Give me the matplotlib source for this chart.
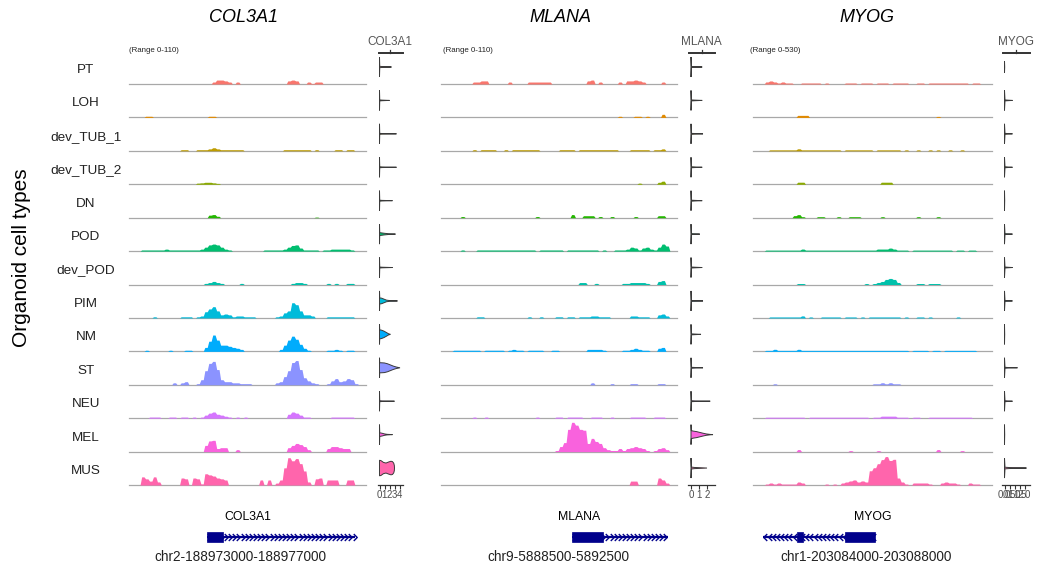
import numpy as np
import matplotlib
matplotlib.use("Agg")
import matplotlib.pyplot as plt
from matplotlib.patches import Rectangle
from matplotlib.lines import Line2D
from matplotlib.path import Path

plt.rcParams["font.family"] = ["Liberation Sans", "DejaVu Sans"]

# ---------------------------------------------------------------- data
CELL_TYPES = ["PT", "LOH", "dev_TUB_1", "dev_TUB_2", "DN", "POD", "dev_POD",
              "PIM", "NM", "ST", "NEU", "MEL", "MUS"]
CELL_COLORS = ["#F8766D", "#E18A00", "#BE9C00", "#8CAB00", "#24B700", "#00BE70",
               "#00C1AB", "#00BBDA", "#00ACFC", "#8B93FF", "#D575FE", "#F962DD",
               "#FF65AC"]

GENES = ["COL3A1", "MLANA", "MYOG"]
REGION_LABELS = ["chr2-188973000-188977000", "chr9-5888500-5892500",
                 "chr1-203084000-203088000"]
REGION_START = [188973000, 5888500, 203084000]
REGION_END = [188977000, 5892500, 203088000]
TRACK_MAX = [110, 110, 530]
N_BINS = 60

# coverage: (first bin, consecutive bin values) per cell type
COL3A1_COVERAGE = {
    "PT": [(21, [7, 14, 14, 11, 7]), (27, [7]), (40, [11, 14, 11]), (45, [7, 2, 7, 7])],
    "LOH": [(4, [4, 4]), (20, [4, 4])],
    "dev_TUB_1": [(13, [4, 4]), (17, [4, 4, 4, 7, 11, 7, 4, 4, 4, 4, 4, 4]),
                  (39, [4, 4, 4, 4, 4, 4, 4]), (47, [4]), (52, [4, 4]), (55, [4, 4])],
    "dev_TUB_2": [(17, [4, 5, 7, 7, 5, 3])],
    "DN": [(20, [9, 11, 5]), (47, [2])],
    "POD": [(3, [4, 4, 4, 4, 4, 4, 7, 4, 4, 4]),
            (13, [4, 4, 4, 4, 4, 7, 14, 22, 25, 22, 14, 7, 4]),
            (34, [4, 4, 4, 4, 4, 7, 14, 20, 22, 11, 4, 4, 4, 4]),
            (49, [4, 4, 7, 7, 7, 7, 7, 4])],
    "dev_POD": [(19, [4, 7, 11, 7, 4]), (28, [4]), (41, [4, 7, 7, 4]), (50, [4]),
                (52, [4]), (55, [4, 4])],
    "PIM": [(6, [4]), (13, [4, 4, 4]),
            (17, [4, 7, 22, 32, 40, 25, 11, 14, 11, 4, 7, 7, 4, 4, 4]),
            (37, [4, 7, 18, 25, 54, 47, 25, 11, 11, 7]), (50, [4, 4, 4, 4, 4, 4, 4])],
    "NM": [(4, [4]), (10, [4]), (14, [4, 4]),
           (19, [14, 36, 58, 40, 22, 22, 18, 14, 11, 7]),
           (38, [7, 22, 40, 54, 43, 25, 11, 4]), (50, [4, 4, 7, 4]), (55, [4, 4])],
    "ST": [(11, [7]), (13, [7, 11]),
           (17, [4, 18, 50, 76, 83, 54, 18, 11, 11, 7, 7, 4, 4, 4]),
           (37, [7, 11, 29, 50, 79, 86, 54, 25, 14, 7, 4]),
           (50, [4, 14, 22, 11, 14, 22, 18, 4])],
    "NEU": [(5, [4, 4, 4]), (10, [4, 4]), (13, [4, 4]), (16, [4]),
            (18, [4, 11, 18, 22, 14, 11, 7, 4]), (27, [4]), (29, [4]),
            (40, [14, 22, 18, 11, 4, 4]), (51, [4, 4, 4, 4, 4, 4])],
    "MEL": [(19, [22, 38, 40, 11, 14, 14]), (27, [7]), (40, [14, 22, 29, 25, 18, 7]),
            (50, [11, 18, 18, 14, 11, 11])],
    "MUS": [(3, [29, 22, 14, 29, 11]), (13, [25, 22]),
            (16, [25, 22, 4, 40, 36, 32, 25, 22, 18]), (33, [18]), (35, [18]),
            (37, [7, 18, 61, 97, 86, 94, 76, 50, 11]), (47, [22, 25]),
            (50, [18, 18, 18]), (55, [18, 18])],
}

MLANA_COVERAGE = {
    "PT": [(8, [7, 7, 11, 11]), (17, [7]), (22, [7, 7, 7, 7, 7, 7]), (37, [11, 14]),
           (40, [7]), (45, [7]), (47, [11, 11, 14, 11, 7]), (56, [7])],
    "LOH": [(45, [4]), (49, [4, 4]), (52, [4]), (56, [11])],
    "dev_TUB_1": [(8, [4]), (10, [4, 4, 4, 4]), (16, [4]), (18, [4] * 7),
                  (30, [4, 4, 4, 4]), (35, [4] * 10), (48, [4] * 5), (54, [4, 4, 7])],
    "dev_TUB_2": [(50, [4]), (55, [7, 11])],
    "DN": [(5, [4]), (24, [4]), (33, [11]), (36, [7, 7, 7]), (40, [4]), (43, [4]),
           (49, [4]), (55, [7, 7])],
    "POD": [(5, [4]), (9, [4] * 15), (25, [4] * 6), (32, [4] * 8), (41, [4]),
            (44, [4, 4, 4, 7, 14, 11, 4, 11, 14, 7, 4, 14, 25, 18])],
    "dev_POD": [(35, [7, 7]), (39, [4]), (46, [4, 4, 7, 7, 7, 7, 4]), (55, [11, 14])],
    "PIM": [(9, [4, 4]), (22, [4]), (25, [4]), (29, [4, 4]), (32, [4, 4]),
            (35, [4, 4, 4, 7, 7, 4, 4, 4]), (48, [7, 7, 4, 4, 4]), (55, [11, 14, 7])],
    "NM": [(3, [4] * 7), (11, [4] * 5), (17, [4, 7, 4, 4]), (22, [4, 4, 4, 4]),
           (28, [4, 4]), (37, [7, 7, 7, 7, 4]), (46, [4, 4, 7, 11, 7, 4, 4]),
           (55, [11, 14])],
    "ST": [(38, [7]), (43, [4]), (48, [4, 4]), (55, [4, 4])],
    "NEU": [(8, [4]), (11, [4]), (24, [4]), (29, [4, 4]), (32, [4, 4, 4, 4]),
            (38, [4, 4, 4]), (43, [4]), (48, [4, 4, 4, 4]), (54, [4, 4, 4])],
    "MEL": [(29, [4, 18, 32, 79, 104, 94, 79, 76, 29, 47, 36, 29, 14, 7, 4, 4, 11,
                  4, 11, 14, 18, 14, 11, 4]), (54, [4, 11, 14, 7])],
    "MUS": [(48, [14, 14]), (55, [25, 18, 7])],
}

MYOG_COVERAGE = {
    "PT": [(3, [35, 52, 35, 17, 35, 17, 17]), (12, [17] * 5), (18, [17]),
           (23, [17] * 3), (27, [17] * 3), (31, [17] * 3), (35, [17] * 4),
           (41, [17, 17]), (44, [17] * 10), (55, [17, 17])],
    "LOH": [(11, [35, 35, 35]), (46, [17])],
    "dev_TUB_1": [(4, [17, 17, 17, 17, 17, 17, 17, 35, 17, 17, 17, 17, 17, 17, 17,
                       17, 17, 17]),
                  (23, [17] * 7), (31, [17] * 6), (38, [17]), (41, [17]), (44, [17]),
                  (46, [17]), (49, [17]), (52, [17])],
    "dev_TUB_2": [(11, [35, 35]), (32, [35, 35, 35])],
    "DN": [(10, [35, 52, 17]), (16, [17, 17]), (21, [17]), (24, [17] * 3), (32, [17]),
           (41, [17]), (46, [17])],
    "POD": [(3, [17] * 9), (12, [35]), (13, [17] * 18), (31, [35, 35, 35, 52, 35]),
            (36, [17] * 3), (40, [17] * 10), (51, [17, 17]), (54, [17, 17])],
    "dev_POD": [(11, [17, 17]), (28, [17]), (30, [17, 35, 52, 87, 104, 87, 35]),
                (41, [17, 17]), (44, [17] * 3)],
    "PIM": [(4, [17] * 8), (12, [35]), (14, [17]), (17, [17] * 5), (23, [17] * 3),
            (27, [17]), (29, [17] * 8), (38, [17]), (41, [17, 17]), (44, [17]),
            (51, [17])],
    "NM": [(3, [17, 17, 35, 17, 17, 17, 17, 17, 35]), (12, [17] * 27), (40, [17] * 4),
           (45, [17, 17]), (48, [17] * 8)],
    "ST": [(5, [17]), (30, [17, 17, 35, 17, 35, 17, 17])],
    "NEU": [(3, [17] * 10), (14, [17] * 5), (19, [17] * 10),
            (30, [17, 17, 35, 35, 35, 35, 17, 17, 17]), (40, [17, 17]), (44, [17] * 11)],
    "MEL": [(11, [35]), (24, [17]), (31, [17]), (46, [35]), (52, [17])],
    "MUS": [(3, [17, 35, 17, 35, 17, 17, 17, 17, 52, 35]), (18, [17]), (20, [17]),
            (22, [35, 52, 70, 87, 52, 70, 52, 244, 296, 365, 435, 487, 420, 440, 120,
                  52, 17]),
            (40, [35, 35, 35, 35, 17]), (47, [35, 52, 35, 35, 17]), (54, [35, 17, 17])],
}

# expression violins: (expression grid, relative half-width)
COL3A1_VIOLINS = {
    "PT": ([0, 0.05, 0.6, 2.4], [1.0, 0.07, 0.04, 0.0]),
    "LOH": ([0, 0.05, 0.5, 2.0], [1.0, 0.05, 0.03, 0.0]),
    "dev_TUB_1": ([0, 0.05, 0.5, 3.4], [1.0, 0.05, 0.03, 0.0]),
    "dev_TUB_2": ([0, 0.05, 0.5, 3.4], [1.0, 0.05, 0.03, 0.0]),
    "DN": ([0, 0.05, 0.5, 2.6], [1.0, 0.05, 0.03, 0.0]),
    "POD": ([0, 0.05, 0.4, 1.0, 1.8, 3.2], [1.0, 0.14, 0.12, 0.08, 0.04, 0.0]),
    "dev_POD": ([0, 0.05, 0.5, 2.6], [1.0, 0.05, 0.03, 0.0]),
    "PIM": ([0, 0.05, 0.4, 0.9, 1.4, 2.0, 3.6], [1.0, 0.3, 0.28, 0.18, 0.08, 0.04, 0.0]),
    "NM": ([0, 0.05, 0.4, 0.9, 1.4, 1.8, 2.2], [1.0, 0.45, 0.42, 0.32, 0.18, 0.06, 0.0]),
    "ST": ([0, 0.05, 0.4, 1.0, 1.6, 2.2, 2.8, 3.4, 4.1],
           [1.0, 0.5, 0.5, 0.48, 0.4, 0.28, 0.16, 0.07, 0.0]),
    "NEU": ([0, 0.05, 0.5, 3.0], [1.0, 0.05, 0.03, 0.0]),
    "MEL": ([0, 0.05, 0.5, 1.0, 1.5, 2.6], [1.0, 0.18, 0.14, 0.07, 0.03, 0.0]),
    "MUS": ([0, 0.3, 0.8, 1.3, 1.8, 2.3, 2.6, 2.85, 2.97, 3.0],
            [0.78, 0.74, 0.56, 0.5, 0.6, 0.68, 0.64, 0.48, 0.25, 0.0]),
}

MLANA_VIOLINS = {
    "PT": ([0, 0.05, 0.5, 1.4], [1.0, 0.05, 0.03, 0.0]),
    "LOH": ([0, 0.05, 0.5, 1.4], [1.0, 0.05, 0.03, 0.0]),
    "dev_TUB_1": ([0, 0.05, 0.5, 1.5], [1.0, 0.05, 0.03, 0.0]),
    "dev_TUB_2": ([0, 0.05, 0.5, 1.4], [1.0, 0.05, 0.03, 0.0]),
    "DN": ([0, 0.05, 0.5, 1.4], [1.0, 0.05, 0.03, 0.0]),
    "POD": ([0, 0.05, 0.5, 1.1], [1.0, 0.05, 0.03, 0.0]),
    "dev_POD": ([0, 0.05, 0.5, 1.4], [1.0, 0.05, 0.03, 0.0]),
    "PIM": ([0, 0.05, 0.5, 1.5], [1.0, 0.05, 0.03, 0.0]),
    "NM": ([0, 0.05, 0.5, 1.25], [1.0, 0.05, 0.03, 0.0]),
    "ST": ([0, 0.05, 0.5, 1.5], [1.0, 0.05, 0.03, 0.0]),
    "NEU": ([0, 0.05, 0.5, 2.4], [1.0, 0.05, 0.03, 0.0]),
    "MEL": ([0, 0.04, 0.3, 0.7, 1.1, 1.5, 1.9, 2.4, 2.75],
            [1.0, 0.4, 0.35, 0.3, 0.22, 0.14, 0.07, 0.02, 0.0]),
    "MUS": ([0, 0.05, 0.4, 2.0], [1.0, 0.1, 0.06, 0.0]),
}

MYOG_VIOLINS = {
    "PT": ([0, 0.02], [0.6, 0.0]),
    "LOH": ([0, 0.05, 0.3, 0.8], [1.0, 0.05, 0.03, 0.0]),
    "dev_TUB_1": ([0, 0.05, 0.3, 0.8], [1.0, 0.05, 0.03, 0.0]),
    "dev_TUB_2": ([0, 0.05, 0.3, 0.8], [1.0, 0.05, 0.03, 0.0]),
    "DN": ([0, 0.02], [1.0, 0.0]),
    "POD": ([0, 0.05, 0.3, 0.8], [1.0, 0.05, 0.03, 0.0]),
    "dev_POD": ([0, 0.05, 0.3, 0.8], [1.0, 0.05, 0.03, 0.0]),
    "PIM": ([0, 0.05, 0.3, 0.8], [1.0, 0.05, 0.03, 0.0]),
    "NM": ([0, 0.02], [1.0, 0.0]),
    "ST": ([0, 0.05, 0.3, 1.3], [1.0, 0.05, 0.03, 0.0]),
    "NEU": ([0, 0.05, 0.3, 0.8], [1.0, 0.05, 0.03, 0.0]),
    "MEL": ([0, 0.02], [1.0, 0.0]),
    "MUS": ([0, 0.05, 0.5, 1.2, 2.2], [1.0, 0.08, 0.05, 0.04, 0.0]),
}

VIOLIN_TICKS = [[0, 1, 2, 3, 4], [0, 1, 2], [0, 0.5, 1, 1.5, 2]]
VIOLIN_TICK_LABELS = [["0", "1", "2", "3", "4"], ["0", "1", "2"],
                      ["0.0", "0.5", "1.0", "1.5", "2.0"]]

# gene models: (start, end, strand, exons)
GENE_MODELS = [
    (188974316, 188976814, "+", [(188974316, 188974586)]),
    (5890720, 5892347, "+", [(5890720, 5891246)]),
    (203084167, 203086042, "-", [(203084737, 203084837), (203085540, 203086042)]),
]
GENE_LABEL_POS = [188975008, 5890839, 203086009]

COVERAGE = [COL3A1_COVERAGE, MLANA_COVERAGE, MYOG_COVERAGE]
VIOLINS = [COL3A1_VIOLINS, MLANA_VIOLINS, MYOG_VIOLINS]

# ---------------------------------------------------------------- layout (pixels)
W, H = 1037, 567
TRACK_X = [(129, 366), (441, 677), (753, 992)]
TITLE_X = [243, 560, 867]
RANGE_X = [129, 443, 750]
VIOLIN_X = [(377.5, 402.5), (688, 715), (1002, 1030)]
VIOLIN_ZERO = [379.5, 691, 1004.5]
VIOLIN_PPU = [5.0, 8.0, 10.0]
CHR_X = [240, 558, 866]
BASE0, ROW_STEP, TRACK_H = 84.0, 33.42, 31.0
NAVY = "#00008B"

fig = plt.figure(figsize=(W / 100, H / 100), dpi=100)


def fx(px):
    return px / W


def fy(py):
    return 1 - py / H


def dense_profile(runs):
    vals = np.zeros(N_BINS)
    for first, seg in runs:
        vals[first:first + len(seg)] = seg
    return vals


# y label and row labels
fig.text(fx(22), fy(258), "Organoid cell types", rotation=90, fontsize=15,
         ha="center", va="center")
for i, ct in enumerate(CELL_TYPES):
    base = BASE0 + i * ROW_STEP
    fig.text(fx(86), fy(base - 14), ct, fontsize=9.7, ha="center", va="center",
             color="#222222")

chevron = Path([(-0.5, 1.0), (0.5, 0.0), (-0.5, -1.0)],
               [Path.MOVETO, Path.LINETO, Path.LINETO])
chevron_left = Path([(0.5, 1.0), (-0.5, 0.0), (0.5, -1.0)],
                    [Path.MOVETO, Path.LINETO, Path.LINETO])

for g, gene in enumerate(GENES):
    x0, x1 = TRACK_X[g]
    start, end = REGION_START[g], REGION_END[g]
    edges = np.linspace(start, end, N_BINS + 1)
    bw = edges[1] - edges[0]

    fig.text(fx(TITLE_X[g]), fy(18), gene, fontsize=13, style="italic",
             ha="center", va="center")
    fig.text(fx(RANGE_X[g]), fy(50), f"(Range 0-{TRACK_MAX[g]})", fontsize=5.7,
             ha="left", va="center", color="#222222")

    # coverage tracks
    for i, ct in enumerate(CELL_TYPES):
        base = BASE0 + i * ROW_STEP
        ax = fig.add_axes([fx(x0), fy(base), (x1 - x0) / W, TRACK_H / H])
        ax.set_xlim(start, end)
        ax.set_ylim(0, TRACK_MAX[g])
        ax.axis("off")
        vals = dense_profile(COVERAGE[g][ct])
        xs = np.column_stack([edges[:-1] + 0.2 * bw, edges[1:] - 0.2 * bw]).ravel()
        ys = np.repeat(vals, 2)
        ax.fill_between(xs, 0, ys, color=CELL_COLORS[i], lw=0)
        ax.axhline(0, color="#A8A8A8", lw=0.9, clip_on=False, zorder=0)

    # expression violins
    vx0, vx1 = VIOLIN_X[g]
    z, ppu = VIOLIN_ZERO[g], VIOLIN_PPU[g]
    for i, ct in enumerate(CELL_TYPES):
        base = BASE0 + i * ROW_STEP
        yc = base - 17
        ax = fig.add_axes([fx(vx0), fy(yc + 16.7), (vx1 - vx0) / W, 33.4 / H])
        ax.set_xlim((vx0 - z) / ppu, (vx1 - z) / ppu)
        ax.set_ylim(-1.67, 1.67)
        grid, half = VIOLINS[g][ct]
        grid = np.asarray(grid, float)
        half = np.asarray(half, float)
        ax.fill(np.concatenate([grid, grid[::-1]]),
                np.concatenate([half, -half[::-1]]),
                facecolor=CELL_COLORS[i], edgecolor="#3A3A3A", lw=0.7)
        for s in ["top", "left", "right"]:
            ax.spines[s].set_visible(False)
        ax.set_yticks([])
        if i == len(CELL_TYPES) - 1:
            ax.spines["bottom"].set_color("#333333")
            ax.spines["bottom"].set_linewidth(0.9)
            ax.set_xticks(VIOLIN_TICKS[g])
            ax.set_xticklabels(VIOLIN_TICK_LABELS[g])
            ax.tick_params(axis="x", length=3, width=0.8, color="#333333",
                           labelsize=7, labelcolor="#4D4D4D", pad=1)
        else:
            ax.spines["bottom"].set_visible(False)
            ax.set_xticks([])
        ax.patch.set_alpha(0)

    # violin column header
    fig.text(fx((vx0 + vx1) / 2), fy(42), gene, fontsize=8.5, ha="center",
             va="center", color="#555555")
    fig.add_artist(Line2D([fx(vx0 + 1), fx(vx1)], [fy(53), fy(53)],
                          color="#333333", lw=1.4))
    fig.add_artist(Line2D([fx((vx0 + vx1) / 2)] * 2, [fy(53), fy(50)],
                          color="#333333", lw=0.9))

    # gene model
    gs, ge, strand, exons = GENE_MODELS[g]
    gax = fig.add_axes([fx(x0), fy(547), (x1 - x0) / W, 20 / H])
    gax.set_xlim(start, end)
    gax.set_ylim(-1, 1)
    gax.axis("off")
    gax.plot([gs, ge], [0, 0], color=NAVY, lw=1.6, solid_capstyle="butt")
    chev_pos = np.arange(gs + 40, ge, 70.0)
    gax.plot(chev_pos, np.zeros_like(chev_pos), linestyle="none",
             marker=chevron if strand == "+" else chevron_left,
             ms=5, mew=1.0, mfc="none", mec=NAVY)
    for es, ee in exons:
        gax.add_patch(Rectangle((es, -0.5), ee - es, 1.0, facecolor=NAVY,
                                edgecolor=NAVY, lw=0.5))
    fig.text(fx(x0 + (GENE_LABEL_POS[g] - start) / (end - start) * (x1 - x0)),
             fy(517), gene, fontsize=8.8, ha="center", va="center")
    fig.text(fx(CHR_X[g]), fy(557), REGION_LABELS[g], fontsize=9.8,
             ha="center", va="center", color="#222222")

fig.savefig("out.png", dpi=100, facecolor="white")
